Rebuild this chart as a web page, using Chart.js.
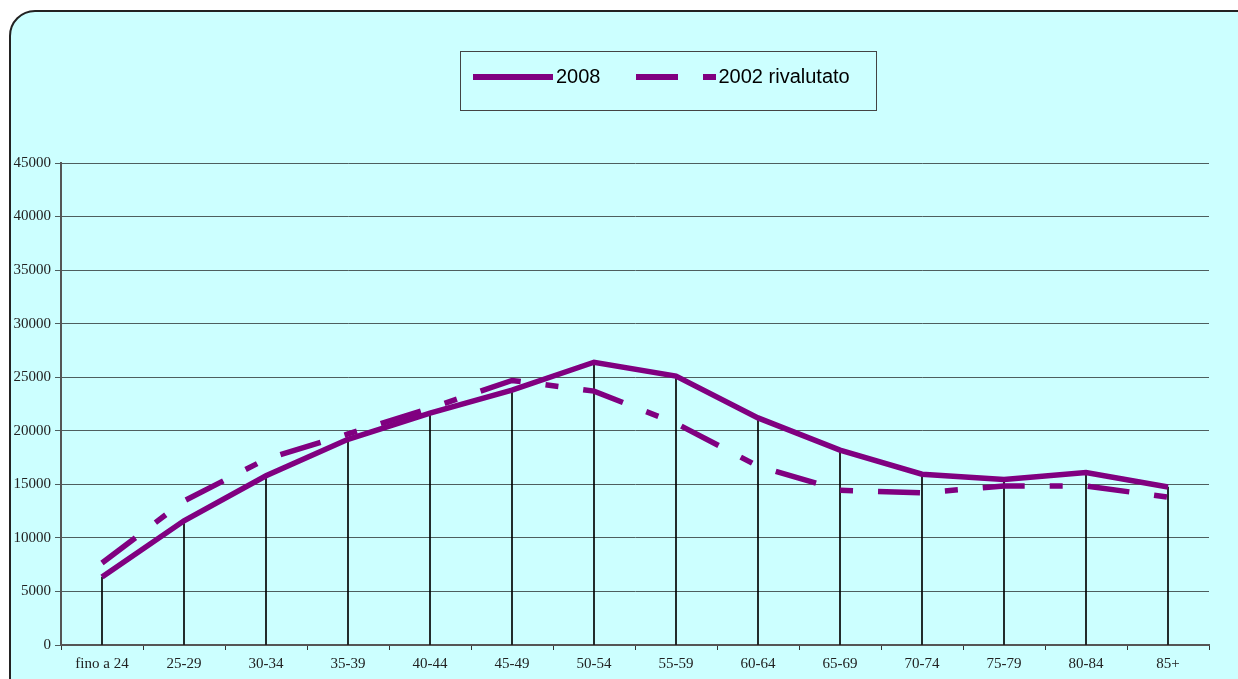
<!DOCTYPE html>
<html>
<head>
<meta charset="utf-8">
<script src="https://cdn.jsdelivr.net/npm/chart.js@4/dist/chart.umd.min.js"></script>
<style>
  html, body { margin: 0; padding: 0; background: #fff; overflow: hidden; }
  #frame {
    position: absolute; left: 9px; top: 10px; width: 1300px; height: 720px;
    background: #ccffff; border: 2px solid #222; border-radius: 26px;
  }
  #wrap { position: absolute; left: 0; top: 0; width: 1238px; height: 679px; }
  #legend {
    position: absolute; left: 460px; top: 51px; width: 417px; height: 60px;
    border: 1px solid #444; font-family: "Liberation Sans", Arial, sans-serif;
    font-size: 20px; color: #000; display: flex; align-items: flex-start;
    box-sizing: border-box; padding-top: 13px;
  }
  .item { display: flex; align-items: center; }
  .item svg { display: block; margin-right: 3px; }
</style>
</head>
<body>
<div id="frame"></div>
<div id="wrap"><canvas id="chart" width="1238" height="679"></canvas></div>
<div id="legend"></div>
<script>
const categories = ["fino a 24", "25-29", "30-34", "35-39", "40-44", "45-49", "50-54",
                    "55-59", "60-64", "65-69", "70-74", "75-79", "80-84", "85+"];
const values2008 = [6350, 11600, 15800, 19200, 21650, 23800, 26400,
                    25100, 21200, 18200, 15950, 15450, 16100, 14750];
const values2002 = [7650, 13450, 17350, 19700, 22100, 24700, 23700,
                    20700, 16700, 14450, 14200, 14850, 14850, 13800];
const yTicks = [0, 5000, 10000, 15000, 20000, 25000, 30000, 35000, 40000, 45000];

const purple = "#800080";
const dashPattern = [42, 25, 13, 25];

const ctx = document.getElementById("chart").getContext("2d");
new Chart(ctx, {
  type: "line",
  data: {
    labels: categories,
    datasets: [
      { label: "2008", data: values2008, borderColor: purple, borderWidth: 5.5,
        pointRadius: 0, tension: 0, fill: false, order: 1 },
      { label: "2002 rivalutato", data: values2002, borderColor: purple, borderWidth: 5.5,
        borderDash: dashPattern, pointRadius: 0, tension: 0, fill: false, order: 2 },
      { type: "bar", label: "drop", data: values2008, backgroundColor: "#000",
        barThickness: 1, order: 3 }
    ]
  },
  options: {
    responsive: false,
    animation: false,
    layout: { padding: { left: 11, right: 29, top: 163, bottom: 0 } },
    plugins: { legend: { display: false }, tooltip: { enabled: false } },
    scales: {
      x: {
        offset: true,
        grid: { offset: true, drawOnChartArea: false, drawTicks: true, tickLength: 5, color: "#333" },
        border: { color: "#555", width: 2 },
        ticks: { color: "#222", padding: 5, maxRotation: 0,
                 font: { family: "Liberation Serif", size: 15 } },
        afterFit: function(scale) { scale.height = 34; }
      },
      y: {
        min: 0, max: 45000,
        afterBuildTicks: function(scale) { scale.ticks = yTicks.map(v => ({ value: v })); },
        grid: { color: "#4e5e5e", lineWidth: 1, tickLength: 6 },
        border: { color: "#555", width: 2 },
        ticks: { color: "#222", padding: 4, callback: v => String(v),
                 font: { family: "Liberation Serif", size: 15 } },
        afterFit: function(scale) { scale.width = 50; }
      }
    }
  }
});

// legend
const legend = document.getElementById("legend");
function addItem(label, dash, gapBefore) {
  const item = document.createElement("div");
  item.className = "item";
  item.style.marginLeft = gapBefore + "px";
  const svg = '<svg width="80" height="8"><line x1="0" y1="4" x2="80" y2="4" stroke="' + purple +
    '" stroke-width="6"' + (dash ? ' stroke-dasharray="' + dash + '"' : '') + '/></svg>';
  item.innerHTML = svg + '<span>' + label + '</span>';
  legend.appendChild(item);
}
addItem("2008", null, 12);
addItem("2002 rivalutato", "42,25,13,25", 35);
</script>
</body>
</html>
